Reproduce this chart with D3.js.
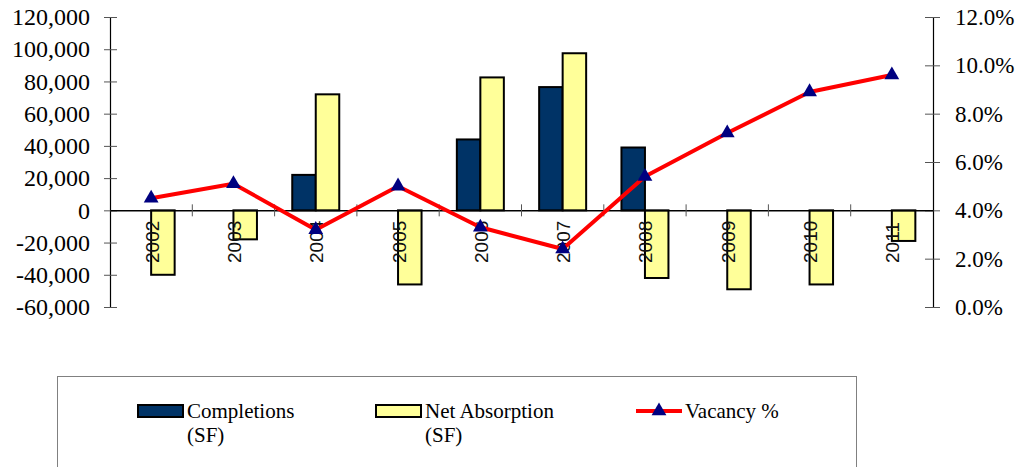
<!DOCTYPE html>
<html>
<head>
<meta charset="utf-8">
<script src="https://cdn.jsdelivr.net/npm/d3@7"></script>
<style>
  html, body { margin: 0; padding: 0; background: #fff; }
  svg { display: block; }
  .serif { font-family: "Liberation Serif", "DejaVu Serif", serif; }
</style>
</head>
<body>
<svg id="chart" width="1021" height="467"></svg>
<script>
// Annual market figures
const years = ["2002","2003","2004","2005","2006","2007","2008","2009","2010","2011"];
const completions = [0, 0, 22000, 0, 44000, 76500, 39000, 0, 0, 0];
const netAbsorption = [-40000, -18000, 72000, -46000, 82500, 97500, -42000, -49000, -46000, -19000];
const vacancy = [0.045, 0.051, 0.032, 0.050, 0.033, 0.024, 0.054, 0.072, 0.089, 0.096];
const leftTicks = [-60000, -40000, -20000, 0, 20000, 40000, 60000, 80000, 100000, 120000];
const rightTicks = [0, 0.02, 0.04, 0.06, 0.08, 0.10, 0.12];

const svg = d3.select("#chart");
const serif = "Liberation Serif";

const plot = { left: 110, right: 933, top: 17, bottom: 307 };

const x = d3.scaleBand().domain(years).range([plot.left, plot.right]);
const inner = d3.scaleBand().domain(["completions", "absorption"]).range([-23.5, 23.5]);
const y = d3.scaleLinear().domain([-60000, 120000]).range([plot.bottom, plot.top]);
const y2 = d3.scaleLinear().domain([0, 0.12]).range([plot.bottom, plot.top]);

// Left value axis
const fmtLeft = d => d3.format(",")(d).replace("\u2212", "-");
const gL = svg.append("g")
  .attr("transform", `translate(${plot.left},0)`)
  .call(d3.axisLeft(y).tickValues(leftTicks).tickFormat(fmtLeft).tickSize(6).tickPadding(14));
gL.selectAll(".tick line").attr("x2", -6).attr("x1", 7);

// Right percentage axis
const gR = svg.append("g")
  .attr("transform", `translate(${plot.right},0)`)
  .call(d3.axisRight(y2).tickValues(rightTicks).tickFormat(d3.format(".1%")).tickSize(7).tickPadding(15));
gR.selectAll(".tick line").attr("x1", -8);

[[gL, 24], [gR, 23]].forEach(([g, fs]) => {
  g.attr("font-family", serif).attr("font-size", fs);
  g.select(".domain").attr("stroke", "#000").attr("stroke-width", 1.2);
  g.selectAll(".tick line").attr("stroke", "#555").attr("stroke-width", 1);
  g.selectAll(".tick text")
    .attr("class", "serif")
    .attr("fill", "#000")
    .attr("font-size", fs);
});

// Bars
const groups = svg.append("g").selectAll("g")
  .data(years)
  .join("g")
  .attr("transform", d => `translate(${x(d) + x.bandwidth() / 2},0)`);

groups.each(function(yr, i) {
  const g = d3.select(this);
  if (completions[i] !== 0) {
    g.append("rect")
      .attr("x", inner("completions"))
      .attr("width", inner.bandwidth())
      .attr("y", y(Math.max(0, completions[i])))
      .attr("height", Math.abs(y(completions[i]) - y(0)))
      .attr("fill", "#003366")
      .attr("stroke", "#000")
      .attr("stroke-width", 2);
  }
  g.append("rect")
    .attr("x", inner("absorption"))
    .attr("width", inner.bandwidth())
    .attr("y", y(Math.max(0, netAbsorption[i])))
    .attr("height", Math.abs(y(netAbsorption[i]) - y(0)))
    .attr("fill", "#FFFF99")
    .attr("stroke", "#000")
    .attr("stroke-width", 2);
});

// Category axis along zero
const gX = svg.append("g")
  .attr("transform", `translate(0,${y(0)})`)
  .call(d3.axisBottom(x).tickSize(0).tickFormat(""));
gX.select(".domain").attr("stroke", "#000").attr("stroke-width", 1.5);
gX.selectAll(".tick").remove();
gX.selectAll(".sep")
  .data(years.slice(1))
  .join("line")
  .attr("class", "sep")
  .attr("x1", d => x(d)).attr("x2", d => x(d))
  .attr("y1", -6).attr("y2", 6)
  .attr("stroke", "#555").attr("stroke-width", 1);

// Year labels, rotated
svg.append("g").selectAll("text")
  .data(years)
  .join("text")
  .attr("transform", d => `translate(${x(d) + x.bandwidth() / 2 + 1},263) rotate(-90)`)
  .attr("text-anchor", "start")
  .attr("dominant-baseline", "central")
  .attr("font-family", "Liberation Sans")
  .attr("font-size", 19)
  .attr("fill", "#111")
  .text(d => d);

// Vacancy line and markers
const pts = years.map((d, i) => [x(d) + x.bandwidth() / 2, y2(vacancy[i])]);
svg.append("path")
  .attr("d", d3.line()(pts))
  .attr("fill", "none")
  .attr("stroke", "#FF0000")
  .attr("stroke-width", 4)
  .attr("stroke-linejoin", "round");

const tri = d3.symbol().type(d3.symbolTriangle).size(95);
svg.append("g").selectAll("path")
  .data(pts)
  .join("path")
  .attr("transform", d => `translate(${d[0]},${d[1]})`)
  .attr("d", tri)
  .attr("fill", "#000080");

// Legend
const lg = svg.append("g");
lg.append("rect")
  .attr("x", 57.5).attr("y", 376.5)
  .attr("width", 799).attr("height", 120)
  .attr("fill", "#fff")
  .attr("stroke", "#808080").attr("stroke-width", 1);

const legendItems = [
  { x: 138, lines: ["Completions", "(SF)"], kind: "bar", fill: "#003366" },
  { x: 376, lines: ["Net Absorption", "(SF)"], kind: "bar", fill: "#FFFF99" },
  { x: 636, lines: ["Vacancy %"], kind: "line" }
];
legendItems.forEach(it => {
  if (it.kind === "bar") {
    lg.append("rect")
      .attr("x", it.x).attr("y", 405)
      .attr("width", 45).attr("height", 12)
      .attr("fill", it.fill)
      .attr("stroke", "#000").attr("stroke-width", 2);
  } else {
    lg.append("line")
      .attr("x1", it.x).attr("x2", it.x + 46)
      .attr("y1", 411).attr("y2", 411)
      .attr("stroke", "#FF0000").attr("stroke-width", 4);
    lg.append("path")
      .attr("transform", `translate(${it.x + 23},411)`)
      .attr("d", tri)
      .attr("fill", "#000080");
  }
  const t = lg.append("text")
    .attr("class", "serif")
    .attr("x", it.x + 49).attr("y", 418)
    .attr("font-family", serif)
    .attr("font-size", 21)
    .attr("fill", "#000");
  it.lines.forEach((ln, k) => {
    t.append("tspan")
      .attr("x", it.x + 49)
      .attr("dy", k === 0 ? 0 : 24)
      .text(ln);
  });
});
</script>
</body>
</html>
